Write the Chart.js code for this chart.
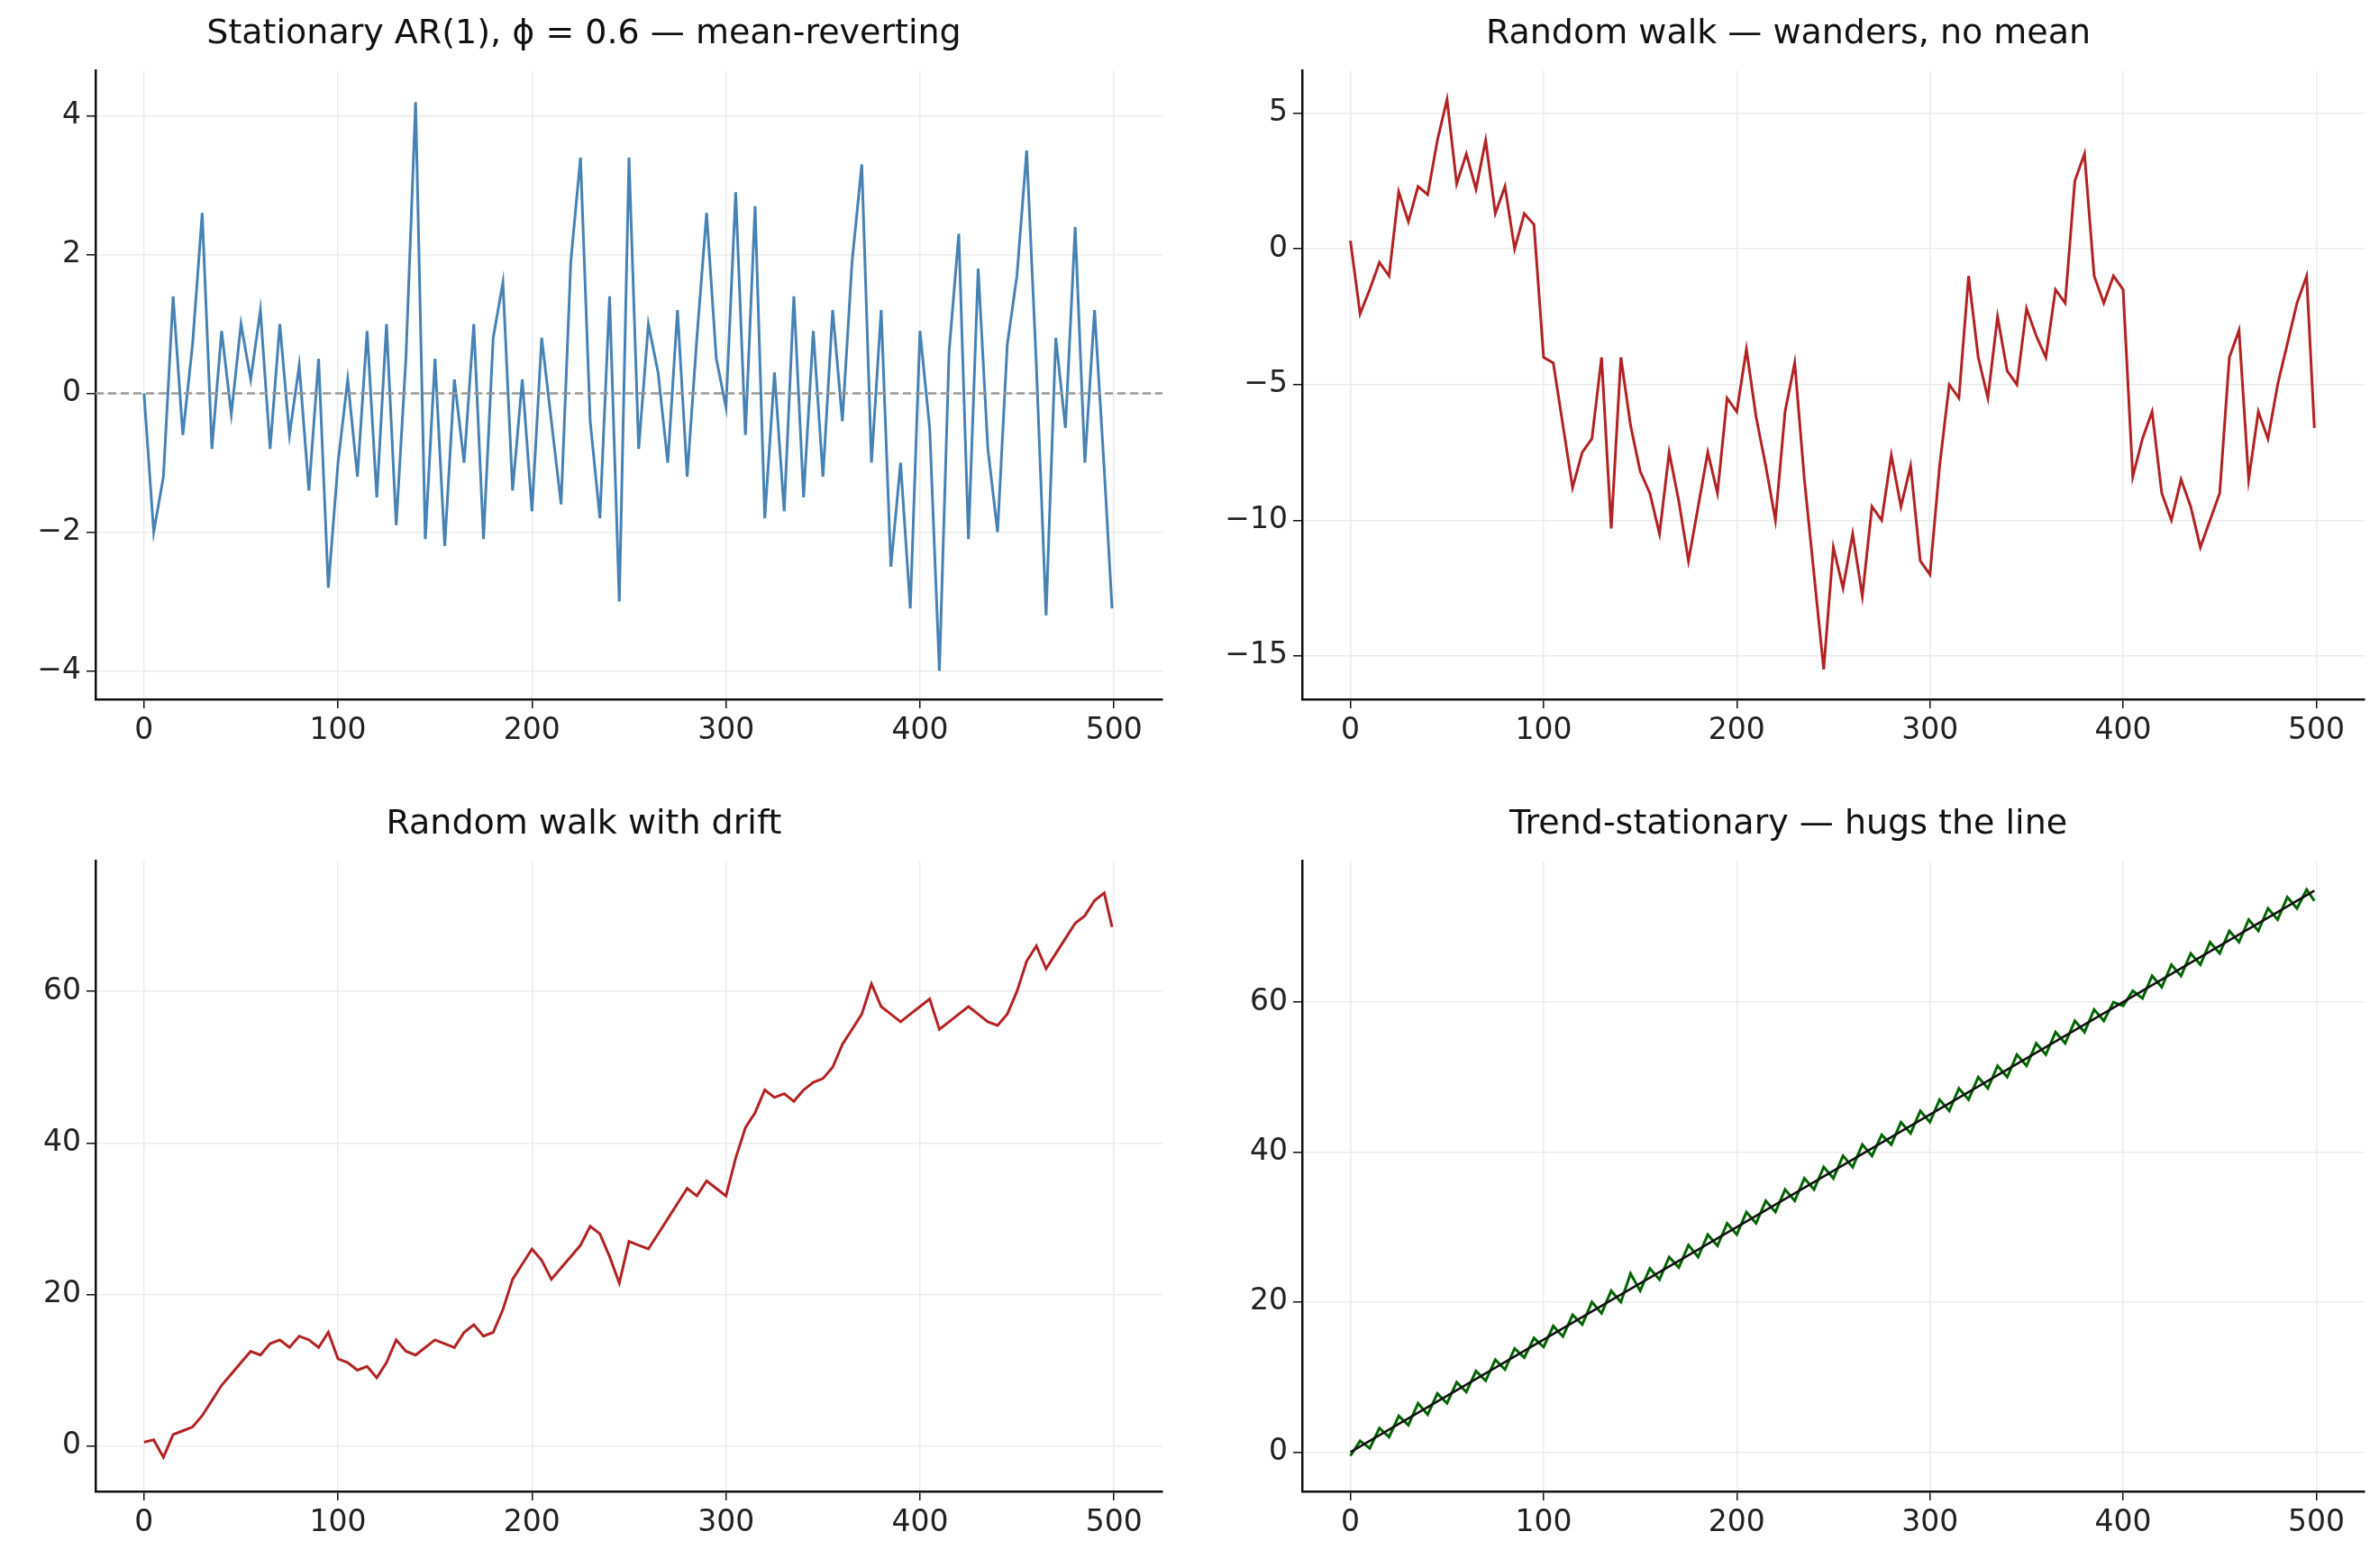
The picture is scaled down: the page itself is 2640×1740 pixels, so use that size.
<!DOCTYPE html>
<html>
<head>
<meta charset="utf-8">
<script src="https://cdn.jsdelivr.net/npm/chart.js@4/dist/chart.umd.min.js"></script>
<style>
  body { margin: 0; background: #fff; width: 2640px; height: 1740px; position: relative; overflow: hidden; }
  .box { position: absolute; }
</style>
</head>
<body>
<div class="box" style="left:6px;top:0px;width:1300px;height:846px"><canvas id="c1"></canvas></div>
<div class="box" style="left:1345px;top:0px;width:1295px;height:846px"><canvas id="c2"></canvas></div>
<div class="box" style="left:6px;top:877px;width:1300px;height:848px"><canvas id="c3"></canvas></div>
<div class="box" style="left:1345px;top:877px;width:1295px;height:848px"><canvas id="c4"></canvas></div>
<script>
// time index shared by all four series (every 5th step, plus the last)
const steps = [0,5,10,15,20,25,30,35,40,45,50,55,60,65,70,75,80,85,90,95,
  100,105,110,115,120,125,130,135,140,145,150,155,160,165,170,175,180,185,190,195,
  200,205,210,215,220,225,230,235,240,245,250,255,260,265,270,275,280,285,290,295,
  300,305,310,315,320,325,330,335,340,345,350,355,360,365,370,375,380,385,390,395,
  400,405,410,415,420,425,430,435,440,445,450,455,460,465,470,475,480,485,490,495,499];

const ar1 = [0.0,-2.0,-1.2,1.4,-0.6,0.7,2.6,-0.8,0.9,-0.3,
  1.0,0.2,1.2,-0.8,1.0,-0.6,0.4,-1.4,0.5,-2.8,
  -1.0,0.2,-1.2,0.9,-1.5,1.0,-1.9,0.5,4.2,-2.1,
  0.5,-2.2,0.2,-1.0,1.0,-2.1,0.8,1.6,-1.4,0.2,
  -1.7,0.8,-0.4,-1.6,1.9,3.4,-0.4,-1.8,1.4,-3.0,
  3.4,-0.8,1.0,0.3,-1.0,1.2,-1.2,0.8,2.6,0.5,
  -0.2,2.9,-0.6,2.7,-1.8,0.3,-1.7,1.4,-1.5,0.9,
  -1.2,1.2,-0.4,1.9,3.3,-1.0,1.2,-2.5,-1.0,-3.1,
  0.9,-0.5,-4.0,0.6,2.3,-2.1,1.8,-0.8,-2.0,0.7,
  1.7,3.5,0.4,-3.2,0.8,-0.5,2.4,-1.0,1.2,-1.1,-3.1];

const walk = [0.3,-2.4,-1.5,-0.5,-1.0,2.1,1.0,2.3,2.0,4.0,
  5.5,2.4,3.5,2.2,4.0,1.3,2.3,0.0,1.3,0.9,
  -4.0,-4.2,-6.5,-8.8,-7.5,-7.0,-4.0,-10.3,-4.0,-6.5,
  -8.2,-9.0,-10.5,-7.5,-9.3,-11.5,-9.5,-7.5,-9.0,-5.5,
  -6.0,-3.7,-6.2,-8.0,-10.0,-6.0,-4.2,-8.5,-12.0,-15.5,
  -11.0,-12.5,-10.5,-12.8,-9.5,-10.0,-7.6,-9.5,-8.0,-11.5,
  -12.0,-8.0,-5.0,-5.5,-1.0,-4.0,-5.5,-2.5,-4.5,-5.0,
  -2.2,-3.2,-4.0,-1.5,-2.0,2.5,3.5,-1.0,-2.0,-1.0,
  -1.5,-8.4,-7.0,-6.0,-9.0,-10.0,-8.5,-9.5,-11.0,-10.0,
  -9.0,-4.0,-3.0,-8.5,-6.0,-7.0,-5.0,-3.5,-2.0,-1.0,-6.6];

const drift = [0.5,0.8,-1.5,1.5,2.0,2.5,4.0,6.0,8.0,9.5,
  11.0,12.5,12.0,13.5,14.0,13.0,14.5,14.0,13.0,15.0,
  11.5,11.0,10.0,10.5,9.0,11.0,14.0,12.5,12.0,13.0,
  14.0,13.5,13.0,15.0,16.0,14.5,15.0,18.0,22.0,24.0,
  26.0,24.5,22.0,23.5,25.0,26.5,29.0,28.0,25.0,21.5,
  27.0,26.5,26.0,28.0,30.0,32.0,34.0,33.0,35.0,34.0,
  33.0,38.0,42.0,44.0,47.0,46.0,46.5,45.5,47.0,48.0,
  48.5,50.0,53.0,55.0,57.0,61.0,58.0,57.0,56.0,57.0,
  58.0,59.0,55.0,56.0,57.0,58.0,57.0,56.0,55.5,57.0,
  60.0,64.0,66.0,63.0,65.0,67.0,69.0,70.0,72.0,73.0,68.5];

const trendNoise = [-0.5,1.5,0.5,3.2,2.0,4.8,3.6,6.5,5.0,7.8,
  6.5,9.3,8.0,10.8,9.5,12.3,11.0,13.8,12.6,15.2,
  14.0,16.8,15.4,18.3,17.0,20.0,18.5,21.5,20.0,23.8,
  21.5,24.5,23.0,26.0,24.6,27.6,26.0,29.0,27.5,30.5,
  29.0,32.0,30.5,33.5,32.0,35.0,33.5,36.5,35.0,38.0,
  36.5,39.5,38.0,41.0,39.5,42.3,41.0,44.0,42.5,45.5,
  44.0,47.0,45.5,48.5,47.0,50.0,48.5,51.5,50.0,53.0,
  51.5,54.5,53.0,56.0,54.5,57.5,56.0,59.0,57.5,60.0,
  59.5,61.5,60.5,63.5,62.0,65.0,63.5,66.5,65.0,68.0,
  66.5,69.5,68.0,71.0,69.5,72.5,71.0,74.0,72.5,75.0,73.5];

const trendX = [0, 499];
const trendY = [0, 74.85];
const zeroLineX = [-25, 525];
const zeroLineY = [0, 0];

const xTicks = [0, 100, 200, 300, 400, 500];
const yTicks1 = [-4, -2, 0, 2, 4];
const yTicks2 = [-15, -10, -5, 0, 5];
const yTicks3 = [0, 20, 40, 60];
const yTicks4 = [0, 20, 40, 60];

const titles = [
  "Stationary AR(1), \u03D5 = 0.6 \u2014 mean-reverting",
  "Random walk \u2014 wanders, no mean",
  "Random walk with drift",
  "Trend-stationary \u2014 hugs the line"
];

Chart.defaults.font.family = "'DejaVu Sans', sans-serif";
Chart.defaults.color = "#222";

function pts(xs, ys) {
  return xs.map((x, i) => ({ x: x, y: ys[i] }));
}

function lineSet(xs, ys, color, extra) {
  return Object.assign({
    data: pts(xs, ys),
    borderColor: color,
    borderWidth: 3,
    pointRadius: 0,
    fill: false,
    tension: 0,
  }, extra || {});
}

// matplotlib style minus sign
const fmt = (v) => String(v).replace("-", "\u2212");

function makeChart(id, title, datasets, yMin, yMax, yTicks) {
  const keepTicks = (list) => (scale) => {
    scale.ticks = list.filter((v) => v >= scale.min && v <= scale.max).map((v) => ({ value: v }));
  };
  return new Chart(document.getElementById(id), {
    type: "line",
    data: { datasets: datasets },
    options: {
      responsive: true,
      maintainAspectRatio: false,
      animation: false,
      layout: { padding: { left: 0, right: 16, top: 0, bottom: 0 } },
      plugins: {
        legend: { display: false },
        tooltip: { enabled: false },
        title: {
          display: true,
          text: title,
          color: "#111",
          font: { size: 38, weight: "normal" },
          padding: { top: 15, bottom: 18 },
        },
      },
      scales: {
        x: {
          type: "linear",
          min: -25,
          max: 525,
          afterBuildTicks: keepTicks(xTicks),
          afterFit: (s) => { s.height = 70; },
          grid: { color: "#ebebeb", lineWidth: 1.5, tickColor: "#111", tickLength: 10 },
          border: { display: true, color: "#111", width: 2.5 },
          ticks: { font: { size: 33 }, color: "#222", padding: 6, maxRotation: 0, callback: fmt },
        },
        y: {
          type: "linear",
          min: yMin,
          max: yMax,
          afterBuildTicks: keepTicks(yTicks),
          afterFit: (s) => { s.width = 100; },
          grid: { color: "#ebebeb", lineWidth: 1.5, tickColor: "#111", tickLength: 10 },
          border: { display: true, color: "#111", width: 2.5 },
          ticks: { font: { size: 33 }, color: "#222", padding: 6, callback: fmt },
        },
      },
    },
  });
}

makeChart("c1", titles[0], [
  lineSet(zeroLineX, zeroLineY, "#999999", { borderDash: [9, 5], borderWidth: 2.5 }),
  lineSet(steps, ar1, "#4682b4"),
], -4.41, 4.65, yTicks1);

makeChart("c2", titles[1], [
  lineSet(steps, walk, "#b22222"),
], -16.6, 6.56, yTicks2);

makeChart("c3", titles[2], [
  lineSet(steps, drift, "#b22222"),
], -6.0, 77.2, yTicks3);

makeChart("c4", titles[3], [
  lineSet(trendX, trendY, "#111111", { borderWidth: 2.6 }),
  lineSet(steps, trendNoise, "#006400"),
], -5.25, 78.8, yTicks4);
</script>
</body>
</html>
